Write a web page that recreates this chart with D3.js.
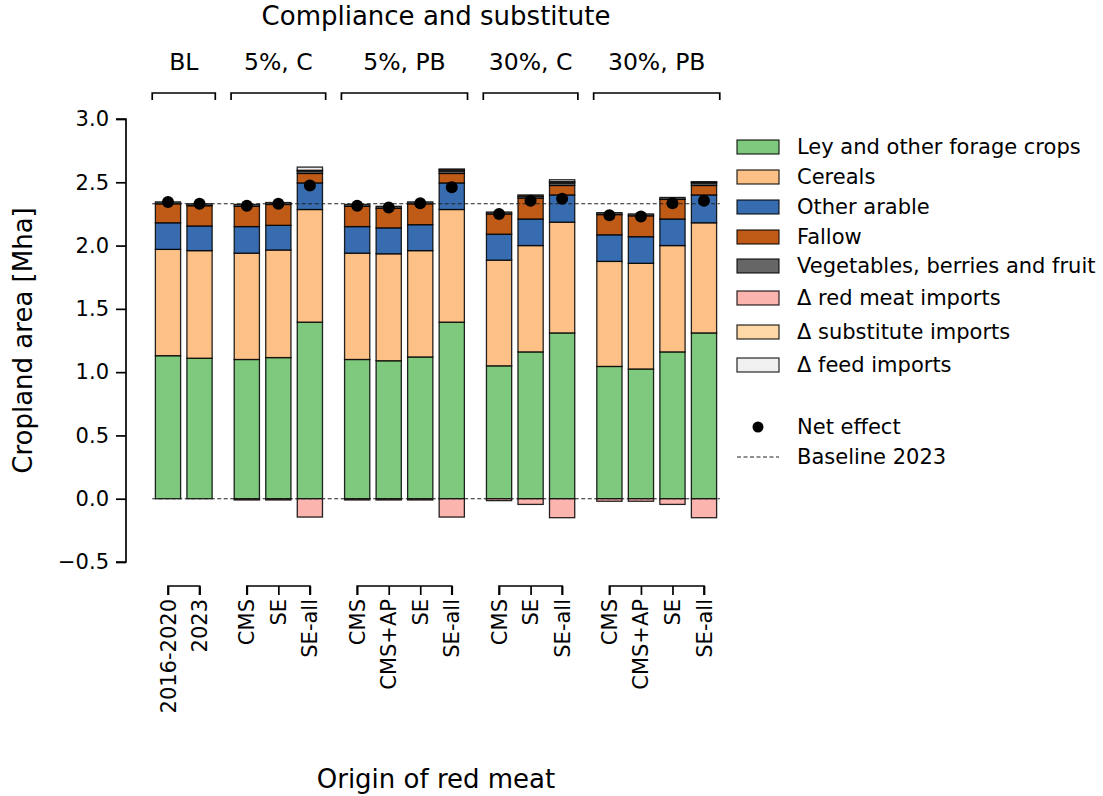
<!DOCTYPE html>
<html>
<head>
<meta charset="utf-8">
<script src="https://cdn.jsdelivr.net/npm/d3@7"></script>
<style>
  html, body { margin: 0; padding: 0; background: #fff; }
  svg { display: block; font-family: "DejaVu Sans", sans-serif; }
</style>
</head>
<body>
<svg id="chart" width="1103" height="796"></svg>
<script>
// Scenario groups and the bars within each group
const groups = ["BL", "5%, C", "5%, PB", "30%, C", "30%, PB"];
const barLabels = ["2016-2020", "2023",
  "CMS", "SE", "SE-all",
  "CMS", "CMS+AP", "SE", "SE-all",
  "CMS", "SE", "SE-all",
  "CMS", "CMS+AP", "SE", "SE-all"];
const barGroup = [0, 0, 1, 1, 1, 2, 2, 2, 2, 3, 3, 3, 4, 4, 4, 4];

// Cropland area per land-use component [Mha]
const ley      = [1.13, 1.11, 1.10, 1.115, 1.395, 1.10, 1.09, 1.12, 1.395, 1.05, 1.16, 1.31, 1.045, 1.025, 1.16, 1.31];
const cereals  = [0.84, 0.85, 0.84, 0.85, 0.89, 0.84, 0.845, 0.84, 0.89, 0.835, 0.84, 0.875, 0.83, 0.835, 0.84, 0.87];
const other    = [0.21, 0.195, 0.21, 0.195, 0.21, 0.21, 0.205, 0.205, 0.21, 0.205, 0.21, 0.215, 0.21, 0.21, 0.21, 0.22];
const fallow   = [0.15, 0.16, 0.16, 0.165, 0.075, 0.16, 0.155, 0.165, 0.075, 0.16, 0.165, 0.075, 0.16, 0.165, 0.155, 0.075];
const veg      = [0.015, 0.015, 0.015, 0.015, 0.02, 0.015, 0.015, 0.015, 0.02, 0.015, 0.015, 0.02, 0.015, 0.015, 0.015, 0.02];
const redMeatImports    = [0, 0, -0.01, -0.01, -0.145, -0.01, -0.01, -0.01, -0.145, -0.015, -0.045, -0.15, -0.02, -0.02, -0.045, -0.15];
const substituteImports = [0, 0, 0, 0, 0.005, 0, 0, 0, 0.01, 0, 0.01, 0.01, 0, 0, 0, 0.005];
const feedImports       = [0, 0, 0, 0, 0.025, 0, 0, 0, 0.005, 0, 0, 0.015, 0, 0, 0, 0.005];

const yTicks = [-0.5, 0.0, 0.5, 1.0, 1.5, 2.0, 2.5, 3.0];

const seriesNames = ["Ley and other forage crops", "Cereals", "Other arable", "Fallow",
  "Vegetables, berries and fruit", "\u0394 red meat imports", "\u0394 substitute imports", "\u0394 feed imports"];
const seriesValues = [ley, cereals, other, fallow, veg, redMeatImports, substituteImports, feedImports];
const seriesColors = ["#7fc97f", "#fdc086", "#386cb0", "#bf5b17", "#666666", "#fbb4ae", "#fed9a6", "#f0f0f0"];

// Bar slot positions: bars in a group are 1 apart, an extra half slot between groups
const positions = [];
{
  let p = 0;
  barLabels.forEach((_, i) => {
    if (i > 0) p += (barGroup[i] !== barGroup[i - 1]) ? 1.5 : 1;
    positions.push(p);
  });
}

const rows = barLabels.map((lab, i) => {
  const r = { label: lab, pos: positions[i], group: barGroup[i] };
  seriesNames.forEach((n, k) => { r[n] = seriesValues[k][i]; });
  r.net = d3.sum(seriesValues, s => s[i]);
  return r;
});
const baseline = rows[1].net; // net cropland area of the 2023 baseline
const lastPos = positions[positions.length - 1];

const svg = d3.select("#chart");
const x = d3.scaleLinear().domain([0, lastPos]).range([168, 704]);
const y = d3.scaleLinear().domain([-0.5, 3.0]).range([562, 119]);
const slot = x(1) - x(0);
const barW = 0.8 * slot;

// Stacked bars (positive up, negative down)
const stack = d3.stack().keys(seriesNames).offset(d3.stackOffsetDiverging);
const stacked = stack(rows);

svg.append("g").selectAll("g")
  .data(stacked)
  .join("g")
  .attr("fill", (d, k) => seriesColors[k])
  .selectAll("rect")
  .data(d => d.filter(v => Math.abs(v[1] - v[0]) > 1e-9))
  .join("rect")
  .attr("x", d => x(d.data.pos) - barW / 2)
  .attr("width", barW)
  .attr("y", d => y(Math.max(d[0], d[1])))
  .attr("height", d => Math.abs(y(d[0]) - y(d[1])))
  .attr("stroke", "#000")
  .attr("stroke-opacity", 0.85)
  .attr("stroke-width", 1.3);

// Reference lines at zero and at the 2023 baseline
[0, baseline].forEach(v => {
  svg.append("line")
    .attr("x1", x(-0.5)).attr("x2", x(lastPos + 0.5))
    .attr("y1", y(v)).attr("y2", y(v))
    .attr("stroke", "#222").attr("stroke-width", 1.1)
    .attr("stroke-dasharray", "4,2.5");
});

// Net effect markers
svg.append("g").selectAll("circle")
  .data(rows)
  .join("circle")
  .attr("cx", d => x(d.pos))
  .attr("cy", d => y(d.net))
  .attr("r", 6)
  .attr("fill", "#000");

// Y axis (offset from the plot)
const yAxis = d3.axisLeft(y).tickValues(yTicks).tickSize(10).tickPadding(7)
  .tickFormat(d => d3.format(".1f")(d).replace("-", "\u2212"));
const gy = svg.append("g").attr("transform", "translate(126,0)").call(yAxis);
gy.select(".domain").attr("stroke-width", 1.7).attr("d", `M-10,${y(3)}H0V${y(-0.5)}H-10`);
gy.selectAll(".tick line").attr("stroke-width", 1.7);
gy.selectAll("text").attr("font-size", 21).attr("fill", "#000").attr("font-family", "DejaVu Sans");

svg.append("text")
  .attr("transform", `translate(24,${(y(3) + y(-0.5)) / 2}) rotate(-90)`)
  .attr("text-anchor", "middle").attr("dominant-baseline", "middle")
  .attr("font-size", 26).text("Cropland area [Mha]");

// Per-group bottom axes with rotated bar labels, and top brackets with group names
groups.forEach((gname, gi) => {
  const members = rows.filter(r => r.group === gi);
  const first = members[0].pos, last = members[members.length - 1].pos;
  const yb = 586;
  const axis = d3.axisBottom(x).tickValues(members.map(m => m.pos))
    .tickFormat((d, i) => members[i].label).tickSize(9).tickPadding(6);
  const g = svg.append("g").attr("transform", `translate(0,${yb})`).call(axis);
  g.select(".domain").attr("stroke-width", 1.7).attr("d", `M${x(first)},9V0H${x(last)}V9`);
  g.selectAll(".tick line").attr("stroke-width", 1.7);
  g.selectAll("text")
    .attr("font-size", 21).attr("font-family", "DejaVu Sans").attr("fill", "#000")
    .attr("text-anchor", "end").attr("dy", null)
    .attr("transform", "rotate(-90)")
    .attr("x", -13).attr("y", 0).attr("dominant-baseline", "central");

  const yt = 93;
  svg.append("path")
    .attr("d", `M${x(first - 0.5)},${yt + 7}V${yt}H${x(last + 0.5)}V${yt + 7}`)
    .attr("fill", "none").attr("stroke", "#000").attr("stroke-width", 1.7);
  svg.append("text")
    .attr("x", (x(first - 0.5) + x(last + 0.5)) / 2).attr("y", 62)
    .attr("text-anchor", "middle").attr("dominant-baseline", "central")
    .attr("font-size", 23.5).text(gname);
});

svg.append("text").attr("x", x(lastPos / 2)).attr("y", 16)
  .attr("text-anchor", "middle").attr("dominant-baseline", "central")
  .attr("font-size", 26).text("Compliance and substitute");

svg.append("text").attr("x", x(lastPos / 2)).attr("y", 779)
  .attr("text-anchor", "middle").attr("dominant-baseline", "central")
  .attr("font-size", 26).text("Origin of red meat");

// Legend
const lg = svg.append("g").attr("transform", "translate(737,0)");
const rowY = [147, 177, 207, 237, 266, 298, 332, 365];
seriesNames.forEach((n, k) => {
  lg.append("rect").attr("x", 0).attr("y", rowY[k] - 7).attr("width", 42).attr("height", 14)
    .attr("fill", seriesColors[k]).attr("stroke", "#000").attr("stroke-opacity", 0.85).attr("stroke-width", 1.2);
  lg.append("text").attr("x", 60).attr("y", rowY[k]).attr("dominant-baseline", "central")
    .attr("font-size", 21).text(n);
});
lg.append("circle").attr("cx", 21).attr("cy", 427).attr("r", 5.5).attr("fill", "#000");
lg.append("text").attr("x", 60).attr("y", 427).attr("dominant-baseline", "central").attr("font-size", 21).text("Net effect");
lg.append("line").attr("x1", 0).attr("x2", 42).attr("y1", 457).attr("y2", 457)
  .attr("stroke", "#222").attr("stroke-width", 1.1).attr("stroke-dasharray", "4,2.5");
lg.append("text").attr("x", 60).attr("y", 457).attr("dominant-baseline", "central").attr("font-size", 21).text("Baseline 2023");
</script>
</body>
</html>
